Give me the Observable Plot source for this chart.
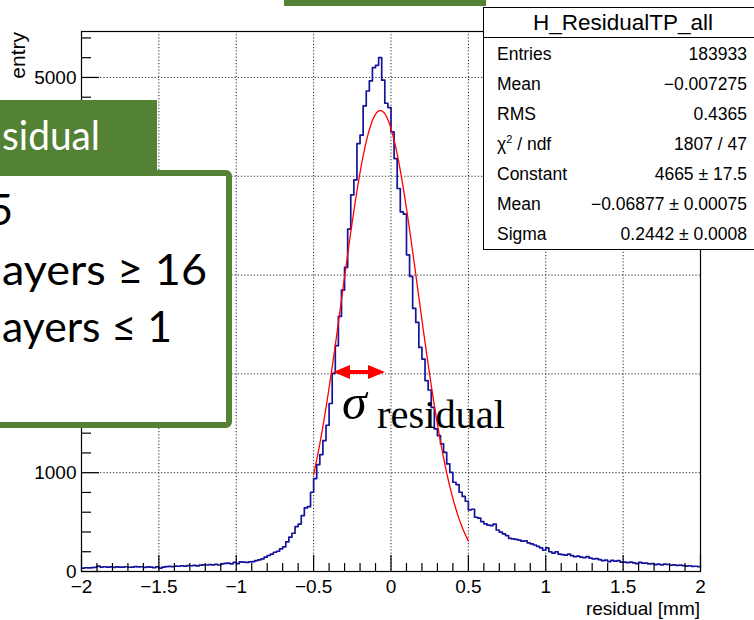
<!DOCTYPE html>
<html><head><meta charset="utf-8">
<script src="https://cdn.jsdelivr.net/npm/d3@7"></script>
<script src="https://cdn.jsdelivr.net/npm/@observablehq/plot@0.6"></script>
<style>
body{margin:0;background:#fff}
#chart{position:relative;width:754px;height:620px;overflow:hidden;background:#fff}
</style>
</head><body><div id="chart"></div>
<script>
// ---- histogram binning (200 bins on [-2, 2]) ----
const binLow = -2, binHigh = 2, binWidth = 0.02;
// bin contents, left to right
const tailLeft = [35,38,36,40,42,55,45,48,44,46, 42,47,44,45,48,43,45,50,46,48, 42,46,44,40,47,35,45,50,52,48, 55,53,58,55,60,58,62,56,64,68, 66,70,68,72,66,78];
const riseLeft = [82,85,78,92,80,98,95,92,97,100, 111,118,128,145,162,175,195,205,229,250, 300,347,387,455,480,566,644,657,802];
const coreLeft = [940,1082,1183,1325,1480,1700,2005,2285];
const peak = [2581,2848,3077,3465,3812,3964,4331,4416,4712,4863,4965,5099,5123,5200,4972,4739,4695];
const fallRight = [4449,4179,3876,3640,3617,3205,2986,2662,2521];
const shoulderRight = [2268,2150,1931,1837,1661,1443,1375,1291,1206,1089,1004,903,880,802,760,711];
const tailRight = [624,630,549,540,505,482,470,465,480,420, 398,380,364,335,330,325,318,307,310,290, 280,268,255,240,215,240,200,185,200,175, 170,165,175,160,150,155,145,140,150,135, 128,130,120,110,115,100,112,104,110,95, 94,90,95,88,80,92,84,84,77,80, 70,74,68,75,71,65,68,62,64,60, 55,58,52,53,50];

// ---- Gaussian fit parameters (from the stats box) ----
const fitConstant = 4665, fitMean = -0.06877, fitSigma = 0.2442;
const fitRange = [-0.5, 0.5];

// ---- axes ----
const yMax = 5465;
const xMajor = [-2,-1.5,-1,-0.5,0,0.5,1,1.5,2];
const xGrid = [-1.5,-1,-0.5,0,0.5,1,1.5];
const xMinor = d3.range(-20, 21).map(i => i / 10).filter(v => !xMajor.some(m => Math.abs(m - v) < 1e-9));
const yMajor = [0,1000,2000,3000,4000,5000];
const yVisibleLabels = [0,1000,5000]; // 2000–4000 are hidden behind the slide box
const yGrid = [1000,2000,3000,4000,5000];
const yMinor = d3.range(0, 5401, 200).filter(v => v % 1000 !== 0);

// ---- texts ----
const xTitle = "residual [mm]";
const yTitle = "entry";
const statsTitle = "H_ResidualTP_all";
const statsLabels = ["Entries","Mean","RMS","χ2 / ndf","Constant","Mean","Sigma"];
const statsValues = ["183933","−0.007275","0.4365","1807 / 47","4665 ± 17.5","−0.06877 ± 0.00075","0.2442 ± 0.0008"];
const slideHeader = "sidual";
const slideLines = ["5", "ayers ≥ 16", "ayers ≤ 1"];
const sigmaSymbol = "σ", sigmaSub = "residual";

// ---- build data ----
const counts = [].concat(tailLeft, riseLeft, coreLeft, peak, fallRight, shoulderRight, tailRight);
const steps = counts.map((c, i) => ({x: binLow + i * binWidth, y: c}));
steps.push({x: binHigh, y: counts[counts.length - 1]});
const fitPts = d3.range(0, 201).map(i => {
  const x = fitRange[0] + (fitRange[1] - fitRange[0]) * i / 200;
  return {x, y: fitConstant * Math.exp(-0.5 * ((x - fitMean) / fitSigma) ** 2)};
});
const fmtX = d => d === 0 ? "0" : String(d).replace("-", "−");
const fmtY = d => yVisibleLabels.includes(d) ? String(d) : "";

const svg = Plot.plot({
  width: 754, height: 620,
  marginLeft: 81, marginRight: 54, marginTop: 31, marginBottom: 49,
  style: {fontFamily: "'Liberation Sans', Arial, sans-serif", fontSize: "19px", color: "#000", background: "#fff", overflow: "visible"},
  x: {domain: [binLow, binHigh]},
  y: {domain: [0, yMax]},
  marks: [
    Plot.gridX(xGrid, {stroke: "#000", strokeOpacity: 0.85, strokeDasharray: "1.2,2"}),
    Plot.gridY(yGrid, {stroke: "#000", strokeOpacity: 0.85, strokeDasharray: "1.2,2"}),
    Plot.line(steps, {x: "x", y: "y", curve: "step-after", stroke: "#14149a", strokeWidth: 1.7}),
    Plot.line(fitPts, {x: "x", y: "y", stroke: "#ff0000", strokeWidth: 1.3}),
    Plot.frame({stroke: "#000", strokeWidth: 1.2}),
    Plot.axisX(xMajor, {tickSize: -16, tickPadding: 24, tickFormat: fmtX, label: null, strokeWidth: 1.2}),
    Plot.axisX(xMinor, {tickSize: -8, tickPadding: 0, tickFormat: () => "", label: null, strokeWidth: 1.2}),
    Plot.axisY(yMajor, {tickSize: -18, tickPadding: 23, tickFormat: fmtY, label: null, strokeWidth: 1.2}),
    Plot.axisY(yMinor, {tickSize: -10, tickPadding: 0, tickFormat: () => "", label: null, strokeWidth: 1.2})
  ]
});
document.getElementById("chart").appendChild(svg);

// ---- overlays ----
const g = d3.select(svg).append("g").attr("text-anchor", "start");
const green = "#548235";
// axis titles
g.append("text").attr("transform", "translate(25,32) rotate(-90)").attr("text-anchor", "end")
  .attr("font-size", 21).attr("fill", "#000").text(yTitle);
g.append("text").attr("x", 700).attr("y", 615).attr("text-anchor", "end")
  .attr("font-size", 19).attr("fill", "#000").text(xTitle);

// stats box
const sb = g.append("g").attr("font-family", "'Liberation Sans', Arial, sans-serif");
sb.append("rect").attr("x", 483.5).attr("y", 7.5).attr("width", 290).attr("height", 242).attr("fill", "#fff").attr("stroke", "#000").attr("stroke-width", 1);
sb.append("line").attr("x1", 483.5).attr("x2", 760).attr("y1", 37.5).attr("y2", 37.5).attr("stroke", "#000");
sb.append("text").attr("x", 623).attr("y", 30).attr("text-anchor", "middle").attr("font-size", 22.5).text(statsTitle);
statsLabels.forEach((lab, i) => {
  const y = 60 + 30 * i;
  const t = sb.append("text").attr("x", 497).attr("y", y).attr("text-anchor", "start").attr("font-size", 17.5);
  if (lab.startsWith("χ2")) {
    t.append("tspan").text("χ");
    t.append("tspan").attr("font-size", 11).attr("dy", -7).text("2");
    t.append("tspan").attr("dy", 7).text(" / ndf");
  } else t.text(lab);
  sb.append("text").attr("x", 747).attr("y", y).attr("text-anchor", "end").attr("font-size", 17.5).text(statsValues[i]);
});

// sigma annotation
const red = "#ff0000";
const ay = 372, ax1 = 333, ax2 = 385, hl = 17, hh = 7;
g.append("line").attr("x1", ax1 + hl - 2).attr("x2", ax2 - hl + 2).attr("y1", ay).attr("y2", ay).attr("stroke", red).attr("stroke-width", 4);
g.append("polygon").attr("points", `${ax1},${ay} ${ax1 + hl},${ay - hh} ${ax1 + hl},${ay + hh}`).attr("fill", red);
g.append("polygon").attr("points", `${ax2},${ay} ${ax2 - hl},${ay - hh} ${ax2 - hl},${ay + hh}`).attr("fill", red);
g.append("text").attr("x", 342).attr("y", 419).attr("text-anchor", "start").attr("font-family", "'Liberation Serif', 'DejaVu Serif', serif").attr("font-style", "italic").attr("font-size", 50).attr("fill", "#000").text(sigmaSymbol);
g.append("text").attr("x", 377).attr("y", 428).attr("text-anchor", "start").attr("font-family", "'Liberation Serif', 'DejaVu Serif', serif").attr("font-size", 40).attr("fill", "#000")
  .attr("textLength", 128).attr("lengthAdjust", "spacingAndGlyphs").text(sigmaSub);

// slide overlays
g.append("rect").attr("x", 284).attr("y", -2).attr("width", 202).attr("height", 8).attr("fill", green);
g.append("rect").attr("x", -10).attr("y", 173).attr("width", 239).attr("height", 252).attr("rx", 3).attr("fill", "#fff").attr("stroke", green).attr("stroke-width", 6);
g.append("rect").attr("x", -10).attr("y", 100).attr("width", 167).attr("height", 70).attr("fill", green);
const sf = "Lato, 'Open Sans', sans-serif";
g.append("text").attr("x", 2).attr("y", 150).attr("text-anchor", "start").attr("font-family", sf).attr("font-size", 41).attr("fill", "#fff")
  .attr("textLength", 98).attr("lengthAdjust", "spacingAndGlyphs").text(slideHeader);
g.append("text").attr("x", 13).attr("y", 225).attr("text-anchor", "end").attr("font-family", sf).attr("font-size", 42).attr("fill", "#000").text(slideLines[0]);
g.append("text").attr("x", 2).attr("y", 285).attr("text-anchor", "start").attr("font-family", sf).attr("font-size", 42).attr("fill", "#000")
  .attr("textLength", 205).attr("lengthAdjust", "spacingAndGlyphs").text(slideLines[1]);
g.append("text").attr("x", 2).attr("y", 342).attr("text-anchor", "start").attr("font-family", sf).attr("font-size", 42).attr("fill", "#000")
  .attr("textLength", 170).attr("lengthAdjust", "spacingAndGlyphs").text(slideLines[2]);
</script>
</body></html>
